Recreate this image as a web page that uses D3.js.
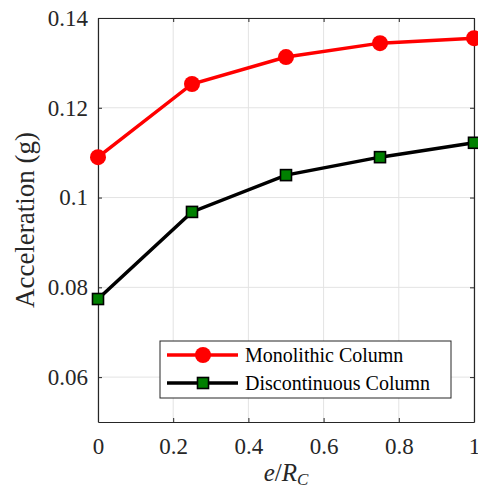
<!DOCTYPE html>
<html>
<head>
<meta charset="utf-8">
<script src="https://cdn.jsdelivr.net/npm/d3@7"></script>
<style>
  body { margin: 0; background: #fff; }
</style>
</head>
<body>
<div id="chart"></div>
<script>
// data
var ratios = [0, 0.25, 0.5, 0.75, 1];
var monolithic = [0.109, 0.1253, 0.1313, 0.1344, 0.1355];
var discontinuous = [0.0774, 0.0968, 0.105, 0.109, 0.1122];
var xTicks = [0, 0.2, 0.4, 0.6, 0.8, 1];
var yTicks = [0.06, 0.08, 0.1, 0.12, 0.14];
var seriesNames = ["Monolithic Column", "Discontinuous Column"];

var serif = "'Liberation Serif'";
var width = 478, height = 491;
var margin = {top: 18, right: 4, bottom: 69, left: 98};

var svg = d3.select("#chart").append("svg")
    .attr("width", width)
    .attr("height", height)
    .style("font-family", serif);

var x = d3.scaleLinear().domain([0, 1]).range([margin.left, width - margin.right]);
var y = d3.scaleLinear().domain([0.05, 0.14]).range([height - margin.bottom, margin.top]);

// grid
svg.append("g").selectAll("line.gx")
    .data(xTicks).enter().append("line")
    .attr("x1", d => x(d)).attr("x2", d => x(d))
    .attr("y1", y(0.05)).attr("y2", y(0.14))
    .attr("stroke", "#e3e3e3").attr("stroke-width", 1);
svg.append("g").selectAll("line.gy")
    .data(yTicks).enter().append("line")
    .attr("x1", x(0)).attr("x2", x(1))
    .attr("y1", d => y(d)).attr("y2", d => y(d))
    .attr("stroke", "#e3e3e3").attr("stroke-width", 1);

// axes, ticks pointing inward
var xAxis = svg.append("g")
    .attr("transform", "translate(0," + y(0.05) + ")")
    .call(d3.axisBottom(x).tickValues(xTicks).tickSizeInner(-4).tickSizeOuter(0)
      .tickFormat(d3.format("")));
var yAxis = svg.append("g")
    .attr("transform", "translate(" + x(0) + ",0)")
    .call(d3.axisLeft(y).tickValues(yTicks).tickSizeInner(-4).tickSizeOuter(0)
      .tickFormat(d3.format("")));
var xTop = svg.append("g")
    .attr("transform", "translate(0," + y(0.14) + ")")
    .call(d3.axisTop(x).tickValues(xTicks).tickSizeInner(-4).tickSizeOuter(0).tickFormat(""));
var yRight = svg.append("g")
    .attr("transform", "translate(" + x(1) + ",0)")
    .call(d3.axisRight(y).tickValues(yTicks).tickSizeInner(-4).tickSizeOuter(0).tickFormat(""));

[xAxis, yAxis, xTop, yRight].forEach(function(g) {
  g.attr("font-family", null).attr("font-size", null);
  g.select(".domain").attr("stroke", "#262626").attr("stroke-width", 1.2);
  g.selectAll(".tick line").attr("stroke", "#262626");
});
xAxis.selectAll("text").attr("dy", "1.25em");
yAxis.selectAll("text").attr("dx", "-0.3em").attr("dy", "0.32em");
[xAxis, yAxis].forEach(g => g.selectAll("text")
    .style("font-family", serif).style("font-size", "23px").attr("fill", "#262626"));

// axis titles
svg.append("text")
    .attr("x", (x(0) + x(1)) / 2).attr("y", 481)
    .attr("text-anchor", "middle")
    .style("font-family", serif).style("font-size", "25px").attr("fill", "#262626")
    .html('<tspan font-style="italic">e</tspan>/<tspan font-style="italic">R</tspan><tspan font-style="italic" font-size="17" dy="4">C</tspan>');
svg.append("text")
    .attr("transform", "translate(34," + ((y(0.05) + y(0.14)) / 2) + ") rotate(-90)")
    .attr("text-anchor", "middle")
    .style("font-family", serif).style("font-size", "27px").attr("fill", "#262626")
    .text("Acceleration (g)");

var line = d3.line().x(d => x(d[0])).y(d => y(d[1]));

// monolithic
var mono = d3.zip(ratios, monolithic);
svg.append("path").datum(mono)
    .attr("d", line).attr("fill", "none")
    .attr("stroke", "#ff0000").attr("stroke-width", 3.5);
svg.append("g").selectAll("circle")
    .data(mono).enter().append("circle")
    .attr("cx", d => x(d[0])).attr("cy", d => y(d[1]))
    .attr("r", 8).attr("fill", "#ff0000");

// discontinuous
var disc = d3.zip(ratios, discontinuous);
svg.append("path").datum(disc)
    .attr("d", line).attr("fill", "none")
    .attr("stroke", "#000").attr("stroke-width", 3.5);
svg.append("g").selectAll("rect")
    .data(disc).enter().append("rect")
    .attr("x", d => x(d[0]) - 5.5).attr("y", d => y(d[1]) - 5.5)
    .attr("width", 11).attr("height", 11)
    .attr("fill", "#008000").attr("stroke", "#000").attr("stroke-width", 1.6);

// legend
var legend = svg.append("g");
legend.append("rect")
    .attr("x", 160).attr("y", 341).attr("width", 291).attr("height", 57)
    .attr("fill", "#fff").attr("stroke", "#262626").attr("stroke-width", 1);
var rows = legend.selectAll("g.row")
    .data(seriesNames).enter().append("g")
    .attr("transform", (d, i) => "translate(0," + (355 + i * 28) + ")");
rows.append("line")
    .attr("x1", 167).attr("x2", 238).attr("y1", 0).attr("y2", 0)
    .attr("stroke", (d, i) => i === 0 ? "#ff0000" : "#000").attr("stroke-width", 3.5);
rows.filter((d, i) => i === 0).append("circle")
    .attr("cx", 203).attr("cy", 0).attr("r", 8).attr("fill", "#ff0000");
rows.filter((d, i) => i === 1).append("rect")
    .attr("x", 197.5).attr("y", -5.5).attr("width", 11).attr("height", 11)
    .attr("fill", "#008000").attr("stroke", "#000").attr("stroke-width", 1.6);
rows.append("text")
    .attr("x", 245).attr("y", 0).attr("dy", "0.35em")
    .style("font-family", serif).style("font-size", "20px").attr("fill", "#000")
    .text(d => d);
</script>
</body>
</html>
